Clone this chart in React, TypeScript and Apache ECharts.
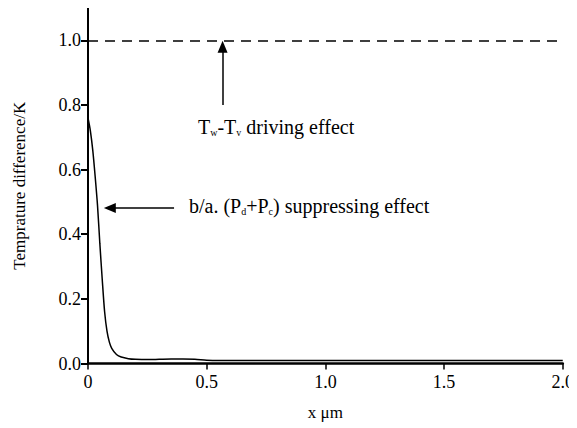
import React, { useEffect, useRef } from "react";
import * as echarts from "echarts";

const xValues = [0, 0.01, 0.02, 0.03, 0.04, 0.05, 0.06, 0.07, 0.08, 0.09, 0.1, 0.12, 0.14, 0.17, 0.2, 0.25, 0.3, 0.35, 0.4, 0.45, 0.5, 0.55, 1.0, 1.5, 2.0];
const yValues = [0.76, 0.72, 0.66, 0.58, 0.49, 0.37, 0.26, 0.16, 0.1, 0.066, 0.047, 0.028, 0.02, 0.015, 0.013, 0.012, 0.013, 0.014, 0.014, 0.013, 0.01, 0.009, 0.009, 0.009, 0.009];
const xTicks = [0, 0.5, 1.0, 1.5, 2.0];
const yTicks = [0, 0.2, 0.4, 0.6, 0.8, 1.0];
const drivingLevel = 1.0;
const upArrow = [[0.567, 0.8], [0.567, 0.98]];
const leftArrow = [[0.3625, 0.481], [0.092, 0.481]];

const FONT = "Liberation Serif, Times New Roman, serif";

export default function App() {
  const ref = useRef<HTMLDivElement>(null);
  useEffect(() => {
    if (!ref.current) return;
    const chart = echarts.init(ref.current, null, { renderer: "svg" });
    const data = xValues.map((x, i) => [x, yValues[i]]);
    const rich = {
      n: { fontFamily: FONT, fontSize: 20, color: "#000" },
      s: { fontFamily: FONT, fontSize: 10, color: "#000", verticalAlign: "bottom", padding: [11, 0, 0, 0] },
    };
    chart.setOption({
      animation: false,
      backgroundColor: "#fff",
      textStyle: { fontFamily: FONT },
      grid: { left: 88, right: 9, top: 8, bottom: 64.5 },
      xAxis: {
        type: "value",
        min: 0,
        max: 2,
        interval: 0.5,
        name: "x μm",
        nameLocation: "middle",
        nameGap: 40,
        nameTextStyle: { fontFamily: FONT, fontSize: 17, color: "#000" },
        axisLine: { show: true, onZero: false, lineStyle: { color: "#000", width: 2.5 } },
        axisTick: { show: true, inside: false, length: 6, lineStyle: { color: "#000", width: 1.5 }, customValues: xTicks },
        axisLabel: {
          fontFamily: FONT, fontSize: 18, color: "#000", margin: 9, customValues: xTicks,
          formatter: (v: number) => (v === 0 ? "0" : v.toFixed(1)),
        },
        splitLine: { show: false },
      },
      yAxis: {
        type: "value",
        min: 0,
        max: 1.1,
        name: "Temprature difference/K",
        nameLocation: "middle",
        nameGap: 60,
        nameTextStyle: { fontFamily: FONT, fontSize: 17, color: "#000" },
        axisLine: { show: true, onZero: false, lineStyle: { color: "#000", width: 2 } },
        axisTick: { show: true, length: 7, lineStyle: { color: "#000", width: 2 }, customValues: yTicks },
        axisLabel: {
          fontFamily: FONT, fontSize: 18, color: "#000", margin: 7, customValues: yTicks,
          formatter: (v: number) => v.toFixed(1),
        },
        splitLine: { show: false },
      },
      series: [
        {
          type: "line",
          data,
          smooth: 0.3,
          symbol: "none",
          lineStyle: { color: "#000", width: 1.5 },
          markLine: {
            silent: true,
            label: { show: false },
            emphasis: { disabled: true },
            data: [
              [
                { coord: upArrow[0], symbol: "none" },
                { coord: upArrow[1], symbol: "triangle", symbolSize: [10, 12] },
              ],
              [
                { coord: leftArrow[0], symbol: "none" },
                { coord: leftArrow[1], symbol: "triangle", symbolSize: [10, 12] },
              ],
            ],
            lineStyle: { color: "#000", width: 1.5, type: "solid" },
          },
        },
        {
          type: "line",
          data: [],
          markLine: {
            silent: true,
            symbol: "none",
            label: { show: false },
            emphasis: { disabled: true },
            data: [[{ coord: [0, drivingLevel] }, { coord: [2, drivingLevel] }]],
            lineStyle: { color: "#000", width: 1.5, type: [10, 7] },
          },
        },
      ],
      graphic: [
        {
          type: "text",
          left: 198,
          top: 117,
          style: {
            text: "{n|T}{s|w}{n|-T}{s|v}{n| driving effect}",
            rich,
          },
        },
        {
          type: "text",
          left: 189,
          top: 196,
          style: {
            text: "{n|b/a. (P}{s|d}{n|+P}{s|c}{n|) suppressing effect}",
            rich,
          },
        },
      ],
    });
    return () => chart.dispose();
  }, []);
  return <div ref={ref} style={{ width: 577, height: 428, marginLeft: -8, marginTop: -8 }} />;
}
